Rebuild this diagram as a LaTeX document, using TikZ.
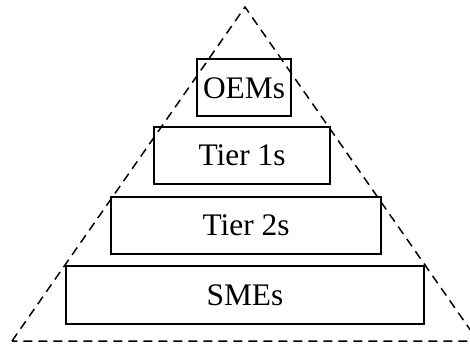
\documentclass[tikz,border=0pt]{standalone}
\usepackage{fontspec}
\setmainfont{Liberation Serif}
\usepackage{tikz}
\usetikzlibrary{positioning}

\begin{document}
\begin{tikzpicture}[x=0.5pt,y=-0.5pt]
        \tikzstyle{tier}=[draw,rectangle,line width=1pt,inner sep=0pt,
            minimum height=28.5pt,font=\fontsize{15.7}{18}\selectfont]
        \tikzstyle{outline}=[line width=0.75pt,dash pattern=on 4.5pt off 3pt]
            \useasboundingbox (0,0) rectangle (470,347);

            % the triangle round the tiers
            \coordinate (apex) at (245,7);
            \coordinate (baseL) at (12,341);
            \coordinate (baseR) at (478,341);
            \begin{scope}
                \clip (0,0) rectangle (470,347);
                \draw[outline] (baseL) -- (apex) -- (baseR) -- cycle;
            \end{scope}

            \node[tier, minimum width=47pt] (oems) at (244,88) {OEMs};
            \node[tier, minimum width=88pt] (tier1) at (242,155.5) {Tier 1s};
            \node[tier, minimum width=135pt] (tier2) at (246,225.5) {Tier 2s};
            \node[tier, minimum width=179pt, minimum height=29pt] (smes) at (245,295) {SMEs};
        \end{tikzpicture}
\end{document}
